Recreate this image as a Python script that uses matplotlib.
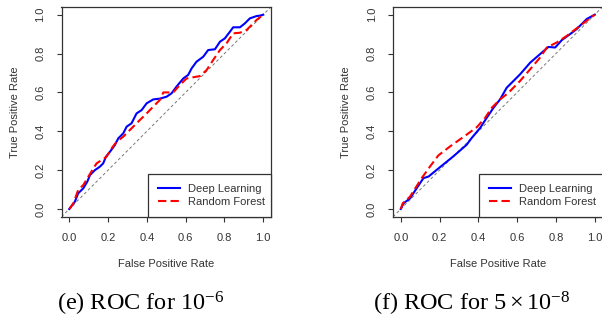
import matplotlib
matplotlib.use("Agg")
import matplotlib.pyplot as plt

plt.rcParams['font.family'] = ['Liberation Sans', 'DejaVu Sans']
plt.rcParams['mathtext.fontset'] = 'custom'
plt.rcParams['mathtext.rm'] = 'Liberation Serif'
plt.rcParams['mathtext.it'] = 'Liberation Serif:italic'

# Panel (e): ROC for 1e-6
e_dl_fpr = [0, 0.029, 0.046, 0.072, 0.093, 0.107, 0.132, 0.158, 0.175, 0.189, 0.21, 0.235, 0.253,
            0.278, 0.296, 0.321, 0.347, 0.373, 0.399, 0.433, 0.467, 0.502, 0.527, 0.553, 0.588,
            0.613, 0.631, 0.656, 0.691, 0.716, 0.751, 0.777, 0.802, 0.828, 0.845, 0.88, 0.905,
            0.931, 0.966, 0.983, 1.0]
e_dl_tpr = [0, 0.038, 0.081, 0.106, 0.141, 0.175, 0.2, 0.218, 0.235, 0.269, 0.295, 0.329, 0.364,
            0.389, 0.424, 0.441, 0.492, 0.509, 0.544, 0.564, 0.568, 0.578, 0.595, 0.63, 0.672,
            0.69, 0.724, 0.758, 0.784, 0.818, 0.822, 0.861, 0.878, 0.912, 0.935, 0.935, 0.955,
            0.981, 0.993, 0.995, 1.0]
e_rf_fpr = [0, 0.021, 0.046, 0.072, 0.098, 0.124, 0.141, 0.167, 0.192, 0.218, 0.244, 0.278, 0.304,
            0.33, 0.364, 0.399, 0.433, 0.467, 0.485, 0.536, 0.57, 0.605, 0.639, 0.674, 0.708,
            0.742, 0.777, 0.811, 0.845, 0.88, 0.914, 0.94, 0.966, 1.0]
e_rf_tpr = [0, 0.029, 0.098, 0.123, 0.166, 0.209, 0.235, 0.252, 0.269, 0.312, 0.346, 0.372, 0.398,
            0.424, 0.458, 0.492, 0.527, 0.561, 0.6, 0.6, 0.638, 0.672, 0.678, 0.684, 0.715,
            0.767, 0.818, 0.853, 0.904, 0.907, 0.921, 0.947, 0.973, 1.0]

# Panel (f): ROC for 5e-8
f_dl_fpr = [0, 0.014, 0.048, 0.082, 0.117, 0.143, 0.203, 0.271, 0.34, 0.366, 0.409, 0.443, 0.478,
            0.512, 0.546, 0.581, 0.615, 0.667, 0.718, 0.761, 0.796, 0.83, 0.873, 0.907, 0.959, 1.0]
f_dl_tpr = [0, 0.029, 0.055, 0.107, 0.159, 0.167, 0.216, 0.271, 0.331, 0.366, 0.417, 0.469, 0.521,
            0.564, 0.624, 0.659, 0.693, 0.753, 0.797, 0.834, 0.831, 0.869, 0.9, 0.926, 0.978, 1.0]
f_rf_fpr = [0, 0.01, 0.048, 0.108, 0.151, 0.194, 0.254, 0.34, 0.392, 0.435, 0.469, 0.512, 0.555,
            0.615, 0.667, 0.718, 0.753, 0.804, 0.856, 0.924, 1.0]
f_rf_tpr = [0, 0.029, 0.064, 0.159, 0.219, 0.276, 0.322, 0.383, 0.421, 0.469, 0.521, 0.564, 0.598,
            0.659, 0.719, 0.779, 0.831, 0.857, 0.891, 0.943, 1.0]

ticks = [0.0, 0.2, 0.4, 0.6, 0.8, 1.0]
tick_labels = ["0.0", "0.2", "0.4", "0.6", "0.8", "1.0"]
series_names = ["Deep Learning", "Random Forest"]
captions = [r"(e) ROC for $10^{-6}$", r"(f) ROC for $5\times10^{-8}$"]

fig = plt.figure(figsize=(6.02, 3.25), dpi=100)
W, H = 602, 325
tc = '#333333'

panels = [
    (61.5, e_dl_fpr, e_dl_tpr, e_rf_fpr, e_rf_tpr, captions[0], 141),
    (393.0, f_dl_fpr, f_dl_tpr, f_rf_fpr, f_rf_tpr, captions[1], 472),
]
for left_px, dx, dy, rx, ry, cap, capx in panels:
    ax = fig.add_axes([left_px / W, (H - 216.8) / H, 209.5 / W, 209.9 / H])
    ax.set_xlim(-0.04, 1.04)
    ax.set_ylim(-0.04, 1.04)
    ax.plot([-0.04, 1.04], [-0.04, 1.04], color='#777777', lw=0.7, dashes=(3, 2.5), zorder=1)
    ax.plot(dx, dy, color='#0000FF', lw=1.5, label=series_names[0], zorder=3)
    ax.plot(rx, ry, color='#FF0000', lw=1.5, dashes=(4, 2), label=series_names[1], zorder=4)
    ax.set_xticks(ticks)
    ax.set_xticklabels(tick_labels)
    ax.set_yticks(ticks)
    ax.set_yticklabels(tick_labels, rotation=90, va='center')
    ax.tick_params(axis='both', direction='out', length=3.5, width=0.8, color=tc,
                   labelsize=8, labelcolor=tc, pad=8)
    for sp in ax.spines.values():
        sp.set_color(tc)
        sp.set_linewidth(0.9)
    ax.text(0.5, -0.225, "False Positive Rate", transform=ax.transAxes, ha='center', va='center',
            fontsize=8, color=tc)
    ax.text(-0.222, 0.5, "True Positive Rate", transform=ax.transAxes, ha='center', va='center',
            fontsize=8, color=tc, rotation=90)
    leg = ax.legend(loc='lower left', bbox_to_anchor=(0.411, 0.0, 0.589, 0.204), mode='expand',
                    borderaxespad=0, fontsize=8, handlelength=2.0, handletextpad=0.7,
                    labelspacing=0.25, borderpad=0.9, fancybox=False, framealpha=1,
                    edgecolor=tc)
    leg.get_frame().set_linewidth(0.9)
    for t in leg.get_texts():
        t.set_color(tc)
    fig.text(capx / W, (H - 304) / H, cap, ha='center', va='center', fontsize=17.5,
             family='Liberation Serif', color='black')

fig.savefig("out.png", dpi=100)
